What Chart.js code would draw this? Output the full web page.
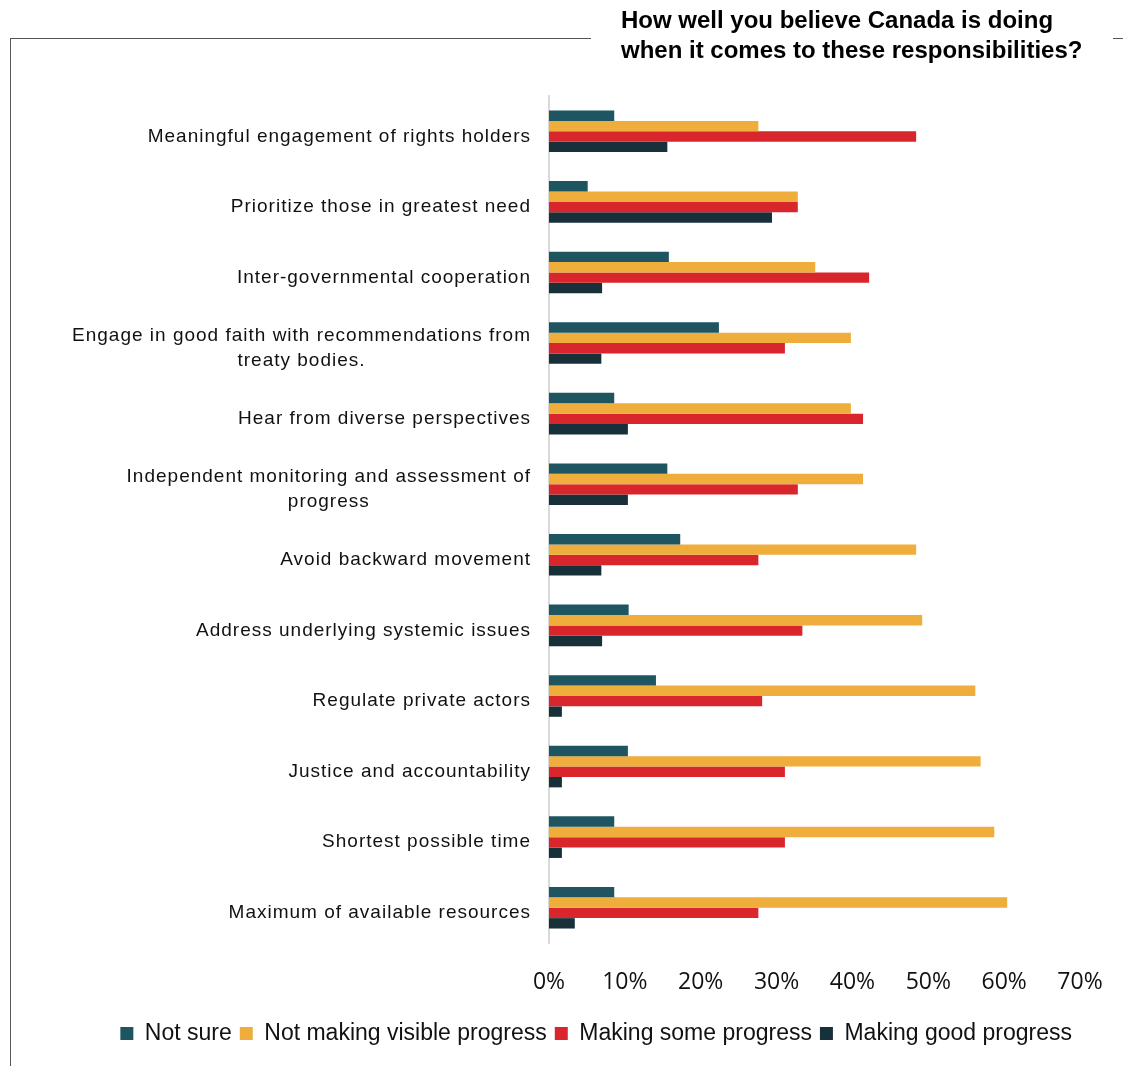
<!DOCTYPE html>
<html>
<head>
<meta charset="utf-8">
<script src="https://cdn.jsdelivr.net/npm/chart.js@4"></script>
<style>
  body { margin: 0; background: #fff; }
  #wrap { position: relative; width: 1123px; height: 1066px; overflow: hidden; }
  #chart { position: absolute; left: 0; top: 0; }
  .frame { position: absolute; left: 10px; top: 38px; width: 580px; height: 1040px;
           border-left: 1px solid #555; border-top: 1px solid #555; }
  .frame-r { position: absolute; left: 1113px; top: 38px; width: 10px; border-top: 1px solid #555; }
  .title { position: absolute; left: 621px; top: 5px; font: bold 24px "Liberation Sans", Arial, sans-serif;
           line-height: 30px; color: #000; }
</style>
</head>
<body>
<div id="wrap">
  <div class="frame"></div>
  <div class="frame-r"></div>
  <canvas id="chart" width="1123" height="1066"></canvas>
  <div class="title">How well you believe Canada is doing<br>when it comes to these responsibilities?</div>
</div>
<script>
// Categories (top to bottom)
const categories = [
    'Meaningful engagement of rights holders',
    'Prioritize those in greatest need',
    'Inter-governmental cooperation',
    ['Engage in good faith with recommendations from', 'treaty bodies.'],
    'Hear from diverse perspectives',
    ['Independent monitoring and assessment of', 'progress'],
    'Avoid backward movement',
    'Address underlying systemic issues',
    'Regulate private actors',
    'Justice and accountability',
    'Shortest possible time',
    'Maximum of available resources'
];

// Series values (%)
const notSure      = [8.6, 5.1, 15.8, 22.4, 8.6, 15.6, 17.3, 10.5, 14.1, 10.4, 8.6, 8.6];
const notVisible   = [27.6, 32.8, 35.1, 39.8, 39.8, 41.4, 48.4, 49.2, 56.2, 56.9, 58.7, 60.4];
const someProgress = [48.4, 32.8, 42.2, 31.1, 41.4, 32.8, 27.6, 33.4, 28.1, 31.1, 31.1, 27.6];
const goodProgress = [15.6, 29.4, 7.0, 6.9, 10.4, 10.4, 6.9, 7.0, 1.7, 1.7, 1.7, 3.4];

const seriesNames = ['Not sure', 'Not making visible progress', 'Making some progress', 'Making good progress'];
const xTicks = [0, 10, 20, 30, 40, 50, 60, 70];

const labelFont = '19px "Liberation Sans", Arial, sans-serif';

// Draw category labels: single lines right aligned, wrapped ones centred under the first line
const categoryLabels = {
    id: 'categoryLabels',
    afterDraw(chart) {
        const scale = chart.scales.y;
        const ctx = chart.ctx;
        const right = scale.right - 18;
        ctx.save();
        ctx.font = labelFont;
        ctx.letterSpacing = '1px';
        ctx.fillStyle = '#111';
        ctx.textBaseline = 'middle';
        categories.forEach((label, i) => {
            const y = scale.getPixelForTick(i) + 5;
            const lines = Array.isArray(label) ? label : [label];
            const lh = 25;
            const top = y - (lines.length - 1) * lh / 2;
            if (lines.length === 1) {
                ctx.textAlign = 'right';
                ctx.fillText(lines[0], right, y);
            } else {
                const w = Math.max(...lines.map(l => ctx.measureText(l).width));
                ctx.textAlign = 'center';
                lines.forEach((l, j) => ctx.fillText(l, right - w / 2, top + j * lh));
            }
        });
        ctx.restore();
    }
};

new Chart(document.getElementById('chart').getContext('2d'), {
    type: 'bar',
    data: {
        labels: categories,
        datasets: [
            { label: seriesNames[0], data: notSure, backgroundColor: '#1f5461' },
            { label: seriesNames[1], data: notVisible, backgroundColor: '#efad3c' },
            { label: seriesNames[2], data: someProgress, backgroundColor: '#d9262c' },
            { label: seriesNames[3], data: goodProgress, backgroundColor: '#17303a' }
        ]
    },
    options: {
        indexAxis: 'y',
        responsive: false,
        animation: false,
        datasets: { bar: { categoryPercentage: 0.59, barPercentage: 1.0 } },
        layout: { padding: { top: 96, right: 43, bottom: 11, left: 0 } },
        scales: {
            x: {
                min: 0,
                max: 70,
                afterBuildTicks: scale => { scale.ticks = xTicks.map(v => ({ value: v })); },
                afterFit: scale => {
                    scale.height = 71;
                    scale.paddingLeft = 0;
                    scale.paddingRight = 0;
                },
                grid: { display: false, drawTicks: false },
                border: { display: false },
                ticks: {
                    padding: 26,
                    maxRotation: 0,
                    color: '#111',
                    font: { family: '"Open Sans", sans-serif', size: 23 },
                    callback: v => v + '%'
                }
            },
            y: {
                afterFit: scale => { scale.width = 549; },
                grid: { display: false, drawTicks: false },
                border: { display: true, color: '#d9d9d9', width: 2 },
                ticks: { color: 'transparent', font: { size: 18 } }
            }
        },
        plugins: {
            legend: {
                position: 'bottom',
                align: 'end',
                labels: {
                    boxWidth: 13,
                    boxHeight: 13,
                    padding: 8,
                    color: '#111',
                    font: { family: '"Liberation Sans", Arial, sans-serif', size: 23 }
                }
            },
            tooltip: { enabled: false }
        }
    },
    plugins: [categoryLabels]
});
</script>
</body>
</html>
